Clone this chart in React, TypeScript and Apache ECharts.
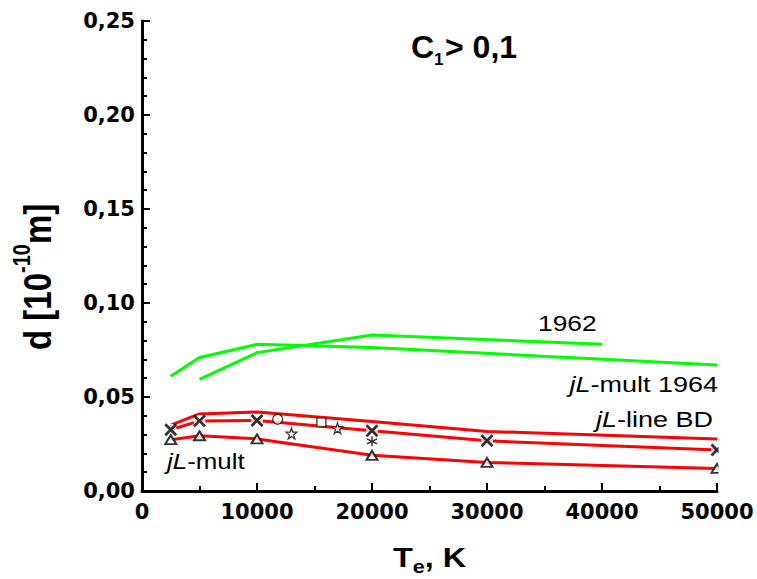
import React, { useEffect, useRef } from "react";
import * as echarts from "echarts";

// Electron temperature grid (K) shared by the red jL curves
const temps = [2500, 5000, 10000, 20000, 30000, 50000];
// jL-line BD (upper red curve)
const lineBD = [0.035, 0.041, 0.042, 0.037, 0.0317, 0.0276];
// jL-mult, middle red curve (crosses)
const multMid = [0.0326, 0.0373, 0.0375, 0.032, 0.0267, 0.0218];
// jL-mult, lower red curve (triangles)
const multLow = [0.0273, 0.0294, 0.0277, 0.019, 0.0152, 0.012];

// jL-mult 1964 (green)
const mult1964T = [2500, 5000, 10000, 20000, 50000];
const mult1964D = [0.061, 0.071, 0.078, 0.0763, 0.067];
// 1962 (green)
const t1962 = [5000, 10000, 20000, 40000];
const d1962 = [0.0594, 0.0736, 0.083, 0.078];

// Individual measurements
const circlePts = [[11800, 0.0382]];
const squarePts = [[15600, 0.0365]];
const starPts = [[13000, 0.0306], [17000, 0.0334]];
const asteriskPts = [[20000, 0.0264]];

// Axis ticks
const xTicks = [0, 10000, 20000, 30000, 40000, 50000];
const yTicks = [0, 0.05, 0.1, 0.15, 0.2, 0.25];

const FONT = '"Liberation Sans", Arial, sans-serif';
const TICK_FONT = '"DejaVu Sans", sans-serif';

const zip = (xs: number[], ys: number[]) => xs.map((x, i) => [x, ys[i]]);

const STAR =
  "path://M50,0L61,35L98,35L68,57L79,91L50,70L21,91L32,57L2,35L39,35Z";
const CROSS = "path://M0,0L10,10M10,0L0,10";
const ASTER = "path://M5,0L5,10M0.7,2.5L9.3,7.5M9.3,2.5L0.7,7.5";

const txt = (
  text: string,
  size: number,
  opts: Record<string, any> = {}
) => ({
  type: "text",
  silent: true,
  ...opts,
  style: {
    text,
    fontFamily: FONT,
    fontSize: size,
    fontWeight: opts.bold ? "bold" : "normal",
    fill: "#000",
    align: opts.align || "left",
    verticalAlign: "middle",
    rich: opts.rich,
  },
});

const italicRich = (size: number) => ({
  i: { fontFamily: FONT, fontSize: size, fontStyle: "italic", fill: "#000" },
  n: { fontFamily: FONT, fontSize: size, fill: "#000" },
});

export default function App() {
  const ref = useRef<HTMLDivElement>(null);

  useEffect(() => {
    if (!ref.current) return;
    const chart = echarts.init(ref.current, null, { renderer: "svg" });

    const axisCommon = {
      type: "value",
      axisLine: { show: true, onZero: false, lineStyle: { color: "#000", width: 3 } },
      axisTick: { show: true, inside: true, length: 8, lineStyle: { color: "#000", width: 2 } },
      minorTick: { show: true, length: 5, lineStyle: { color: "#000", width: 2 } },
      splitLine: { show: false },
      minorSplitLine: { show: false },
    };

    const lineSeries = (data: number[][], color: string) => ({
      type: "line",
      data,
      symbol: "none",
      lineStyle: { color, width: 3 },
      silent: true,
      z: 2,
    });

    const option: any = {
      animation: false,
      backgroundColor: "#fff",
      grid: { left: 142, top: 21, width: 575, height: 470 },
      xAxis: {
        ...axisCommon,
        min: xTicks[0],
        max: xTicks[xTicks.length - 1],
        interval: xTicks[1] - xTicks[0],
        minorTick: { ...axisCommon.minorTick, splitNumber: 2 },
        axisLabel: {
          margin: 10,
          color: "#000",
          fontFamily: TICK_FONT,
          fontWeight: "bold",
          fontSize: 21,
          formatter: (v: number) => String(v),
        },
      },
      yAxis: {
        ...axisCommon,
        min: yTicks[0],
        max: yTicks[yTicks.length - 1],
        interval: yTicks[1] - yTicks[0],
        minorTick: { ...axisCommon.minorTick, splitNumber: 5 },
        axisLabel: {
          margin: 7,
          color: "#000",
          fontFamily: TICK_FONT,
          fontWeight: "bold",
          fontSize: 21,
          formatter: (v: number) => v.toFixed(2).replace(".", ","),
        },
      },
      series: [
        lineSeries(zip(mult1964T, mult1964D), "#00ff00"),
        lineSeries(zip(t1962, d1962), "#00ff00"),
        lineSeries(zip(temps, lineBD), "#ff0000"),
        lineSeries(zip(temps, multMid), "#ff0000"),
        lineSeries(zip(temps, multLow), "#ff0000"),
        // white halo that breaks the curve around each cross
        {
          type: "scatter",
          data: zip(temps, multMid),
          symbol: "circle",
          symbolSize: 12,
          itemStyle: { color: "#fff" },
          silent: true,
          z: 3,
        },
        {
          type: "scatter",
          data: zip(temps, multLow),
          symbol: "triangle",
          symbolSize: [11, 9],
          itemStyle: { color: "#fff", borderColor: "#000", borderWidth: 2 },
          z: 4,
        },
        {
          type: "scatter",
          data: zip(temps, multMid),
          symbol: CROSS,
          symbolSize: 11,
          itemStyle: { color: "none", borderColor: "#000", borderWidth: 2.8 },
          z: 4,
        },
        {
          type: "scatter",
          data: circlePts,
          symbol: "circle",
          symbolSize: 10,
          itemStyle: { color: "#fff", borderColor: "#000", borderWidth: 1.3 },
          z: 4,
        },
        {
          type: "scatter",
          data: squarePts,
          symbol: "rect",
          symbolSize: 9,
          itemStyle: { color: "#fff", borderColor: "#000", borderWidth: 1.3 },
          z: 4,
        },
        {
          type: "scatter",
          data: starPts,
          symbol: STAR,
          symbolSize: 11,
          itemStyle: { color: "#fff", borderColor: "#000", borderWidth: 1.2 },
          z: 4,
        },
        {
          type: "scatter",
          data: asteriskPts,
          symbol: ASTER,
          symbolSize: 10,
          itemStyle: { color: "none", borderColor: "#000", borderWidth: 1.5 },
          z: 4,
        },
      ],
      graphic: [
        // plot-area edge: symbols at the last temperature are cut at the frame
        {
          type: "rect",
          silent: true,
          z: 100,
          shape: { x: 718.5, y: 396, width: 40, height: 92 },
          style: { fill: "#fff" },
        },
        // title C1 > 0,1
        {
          type: "group",
          x: 411,
          y: 47,
          silent: true,
          children: [
            txt("C", 32, { bold: true }),
            txt("1", 17, { bold: true, x: 23, y: 12 }),
            txt("> 0,1", 32, { bold: true, x: 34 }),
          ],
        },
        txt("1962", 22.5, { x: 538, y: 323, scaleX: 1.17 }),
        txt("{i|jL}{n|-mult 1964}", 22.5, {
          x: 718,
          y: 384,
          align: "right",
          scaleX: 1.2,
          rich: italicRich(22.5),
        }),
        txt("{i|jL}{n|-line BD}", 22.5, {
          x: 713,
          y: 419,
          align: "right",
          scaleX: 1.2,
          rich: italicRich(22.5),
        }),
        txt("{i|jL}{n|-mult}", 22.5, {
          x: 167,
          y: 461,
          scaleX: 1.15,
          rich: italicRich(22.5),
        }),
        // x-axis title: Te, K
        {
          type: "group",
          x: 393,
          y: 557,
          scaleX: 1.2,
          silent: true,
          children: [
            txt("T", 27, { bold: true }),
            txt("e", 18, { bold: true, x: 16.5, y: 10 }),
            txt(", K", 27, { bold: true, x: 26.5 }),
          ],
        },
        // y-axis title: d [10^-10 m]
        {
          type: "group",
          x: 37,
          y: 350,
          rotation: Math.PI / 2,
          scaleY: 1.2,
          silent: true,
          children: [
            txt("d [10", 33, { bold: true }),
            txt("-10", 20, { bold: true, x: 77, y: -13 }),
            txt("m]", 33, { bold: true, x: 106 }),
          ],
        },
      ],
    };

    chart.setOption(option);
    return () => chart.dispose();
  }, []);

  // pinned to the page corner so the body margin does not shift the plot
  return (
    <div
      ref={ref}
      style={{ position: "absolute", left: 0, top: 0, width: 757, height: 579 }}
    />
  );
}
